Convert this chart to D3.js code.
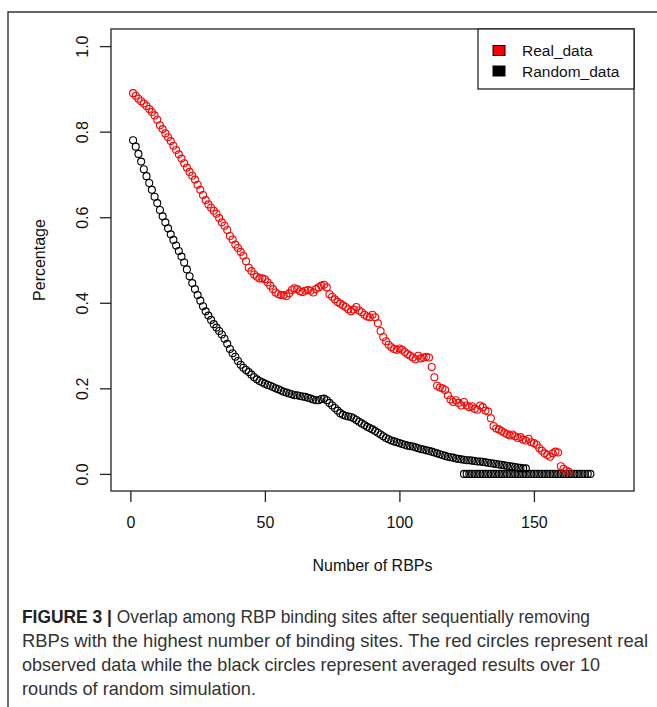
<!DOCTYPE html>
<html><head><meta charset="utf-8">
<script src="https://cdn.jsdelivr.net/npm/d3@7"></script>
<style>body{margin:0;background:#fff}svg{display:block}text{font-family:"Liberation Sans",Arial,sans-serif}</style>
</head><body>
<script>
// ---- data ----
const realY = [0.890,0.884,0.877,0.871,0.866,0.860,0.853,0.846,0.838,0.828,
0.815,0.806,0.796,0.787,0.778,0.767,0.757,0.747,0.737,0.726,
0.716,0.706,0.697,0.688,0.676,0.664,0.652,0.640,0.630,0.622,
0.615,0.608,0.598,0.588,0.580,0.570,0.556,0.548,0.536,0.528,
0.519,0.510,0.497,0.482,0.474,0.466,0.461,0.457,0.457,0.455,
0.448,0.440,0.432,0.424,0.420,0.418,0.418,0.416,0.422,0.430,
0.434,0.432,0.427,0.425,0.428,0.430,0.428,0.424,0.432,0.436,
0.440,0.442,0.436,0.420,0.414,0.408,0.402,0.398,0.394,0.390,
0.385,0.380,0.384,0.390,0.382,0.378,0.372,0.368,0.366,0.372,
0.366,0.352,0.334,0.320,0.310,0.302,0.296,0.292,0.290,0.293,
0.290,0.285,0.280,0.276,0.272,0.268,0.276,0.270,0.272,0.274,
0.272,0.250,0.226,0.206,0.202,0.200,0.196,0.184,0.174,0.168,
0.172,0.166,0.160,0.168,0.160,0.156,0.158,0.152,0.150,0.160,
0.156,0.148,0.146,0.130,0.112,0.106,0.104,0.100,0.096,0.093,
0.090,0.092,0.088,0.084,0.086,0.080,0.078,0.082,0.074,0.072,
0.068,0.060,0.054,0.048,0.044,0.040,0.048,0.052,0.050,0.018,
0.012,0.008,0.005];
const realX = realY.map((d,i)=>i+1);

const randomY = [0.780,0.765,0.748,0.730,0.712,0.696,0.680,0.664,0.648,0.633,
0.617,0.602,0.588,0.574,0.560,0.547,0.534,0.521,0.508,0.494,
0.478,0.462,0.446,0.432,0.418,0.405,0.392,0.380,0.370,0.360,
0.350,0.342,0.334,0.326,0.316,0.304,0.292,0.282,0.274,0.264,
0.255,0.248,0.243,0.238,0.232,0.226,0.221,0.217,0.214,0.211,
0.208,0.206,0.203,0.200,0.198,0.195,0.192,0.190,0.188,0.186,
0.184,0.184,0.182,0.181,0.180,0.178,0.176,0.174,0.172,0.172,
0.175,0.176,0.172,0.166,0.160,0.154,0.148,0.142,0.138,0.136,
0.134,0.133,0.130,0.126,0.122,0.118,0.114,0.110,0.107,0.104,
0.100,0.096,0.092,0.088,0.084,0.081,0.078,0.076,0.074,0.072,
0.070,0.068,0.066,0.065,0.064,0.062,0.060,0.058,0.057,0.055,
0.054,0.052,0.050,0.048,0.046,0.044,0.042,0.040,0.039,0.038,
0.036,0.035,0.034,0.033,0.032,0.032,0.031,0.030,0.029,0.029,
0.028,0.027,0.026,0.025,0.024,0.023,0.022,0.021,0.020,0.019,
0.018,0.017,0.016,0.015,0.014,0.013,0.013];
const randomX = randomY.map((d,i)=>i+1);

const zeroX = d3.range(124,172);   // black circles lying on 0
const zeroY = zeroX.map(()=>0);

const xTicks = [0,50,100,150];
const yTicks = [0,0.2,0.4,0.6,0.8,1.0];
const legendLabels = ["Real_data","Random_data"];
const legendColors = ["#ff0000","#000000"];
const captionBold = "FIGURE 3 |";
const captionLines = [
 " Overlap among RBP binding sites after sequentially removing",
 "RBPs with the highest number of binding sites. The red circles represent real",
 "observed data while the black circles represent averaged results over 10",
 "rounds of random simulation."];

// ---- drawing ----
const W=657,H=707;
const svg=d3.select("body").append("svg").attr("width",W).attr("height",H);
const P={l:111,r:634,t:29,b:491};
const x=d3.scaleLinear().domain([-7.2,187.2]).range([P.l,P.r]);
const y=d3.scaleLinear().domain([-0.04,1.04]).range([P.b,P.t]);

// outer frame (top & left)
svg.append("path").attr("d",`M8,${H}V12H${W}`).attr("fill","none").attr("stroke","#333").attr("stroke-width",1.4);

// plot box
svg.append("rect").attr("x",P.l).attr("y",P.t).attr("width",P.r-P.l).attr("height",P.b-P.t)
 .attr("fill","none").attr("stroke","#222").attr("stroke-width",1.3);

// axes
const xa=svg.append("g").attr("transform",`translate(0,${P.b})`)
 .call(d3.axisBottom(x).tickValues(xTicks).tickSize(11).tickPadding(15).tickFormat(d3.format("d")));
xa.select(".domain").remove();
xa.selectAll("line").attr("stroke","#222").attr("stroke-width",1.3);
xa.selectAll("text").attr("font-size",16).attr("fill","#111").attr("font-family","Liberation Sans, Arial, sans-serif");

const ya=svg.append("g").attr("transform",`translate(${P.l},0)`)
 .call(d3.axisLeft(y).tickValues(yTicks).tickSize(11).tickFormat(d3.format(".1f")));
ya.select(".domain").remove();
ya.selectAll("line").attr("stroke","#222").attr("stroke-width",1.3);
ya.selectAll("text").attr("font-size",16).attr("fill","#111").attr("font-family","Liberation Sans, Arial, sans-serif")
 .attr("text-anchor","middle").attr("dy",null).attr("x",null)
 .attr("transform","translate(-23,0) rotate(-90)");

// axis titles
svg.append("text").attr("x",(P.l+P.r)/2).attr("y",571).attr("text-anchor","middle")
 .attr("font-size",16).attr("fill","#111").text("Number of RBPs");
svg.append("text").attr("transform",`translate(45,${(P.t+P.b)/2}) rotate(-90)`).attr("text-anchor","middle")
 .attr("font-size",16).attr("fill","#111").text("Percentage");

// points
const R=3.5;
const g=svg.append("g").attr("fill","none").attr("stroke-width",1.1);
g.selectAll(".z").data(zeroX).join("circle").attr("cx",d=>x(d)).attr("cy",(d,i)=>y(zeroY[i])).attr("r",R).attr("stroke","#000");
g.selectAll(".b").data(randomX).join("circle").attr("cx",d=>x(d)).attr("cy",(d,i)=>y(randomY[i])).attr("r",R).attr("stroke","#000");
g.selectAll(".r").data(realX).join("circle").attr("cx",d=>x(d)).attr("cy",(d,i)=>y(realY[i])).attr("r",R).attr("stroke","#ff0000");

// legend
const L={x:478,y:29,w:156,h:60};
svg.append("rect").attr("x",L.x).attr("y",L.y).attr("width",L.w).attr("height",L.h).attr("fill","#fff").attr("stroke","#222").attr("stroke-width",1.3);
legendLabels.forEach((lab,i)=>{
  const cy=50.5+i*20.5;
  svg.append("rect").attr("x",493).attr("y",cy-5).attr("width",12).attr("height",10)
   .attr("fill",legendColors[i]).attr("stroke","#000").attr("stroke-width",1);
  svg.append("text").attr("x",522).attr("y",cy+5.5).attr("font-size",15.5).attr("fill","#111").text(lab);
});

// caption
const capY=[623,647,671,695];
const capW=[568,626,578,234];
captionLines.forEach((t,i)=>{
  const tx=svg.append("text").attr("x",22).attr("y",capY[i]).attr("font-size",18.5).attr("fill","#333")
   .attr("textLength",capW[i]).attr("lengthAdjust","spacingAndGlyphs");
  if(i===0){ tx.append("tspan").attr("font-weight","bold").attr("fill","#222").text(captionBold); }
  tx.append("tspan").text(t);
});
</script>
</body></html>
